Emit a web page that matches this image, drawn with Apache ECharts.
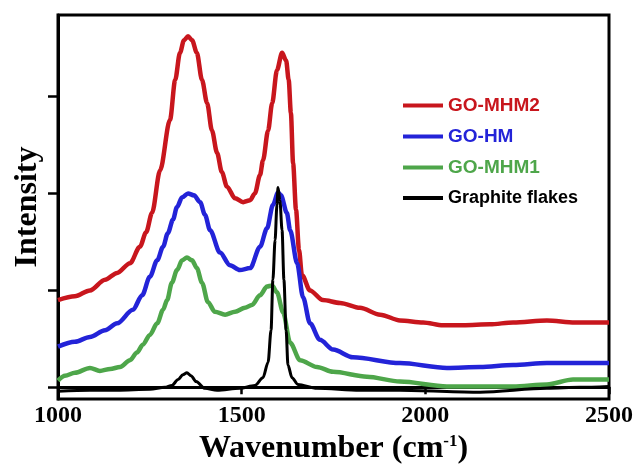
<!DOCTYPE html>
<html>
<head>
<meta charset="utf-8">
<script src="https://cdn.jsdelivr.net/npm/echarts@6/dist/echarts.min.js"></script>
<style>
html,body{margin:0;padding:0;background:#fff;}
#chart{width:638px;height:466px;}
</style>
</head>
<body>
<div id="chart"></div>
<script>
// ---- Data ----
var seriesNames = ['GO-MHM2', 'GO-HM', 'GO-MHM1', 'Graphite flakes'];
var xTicks = [1000, 1500, 2000, 2500];
var yTicks = [0, 1, 2, 3];

var redX = [1000,1046,1087,1128,1161,1196,1223,1240,1256,1278,1305,1319,1332,1343,1354,1365,1378,1392,1406,1419,1433,1446,1460,1482,1504,1523,1536,1550,1558,1572,1583,1596,1610,1621,1628,1634,1640,1648,1656,1664,1686,1721,1768,1822,1877,1931,1994,2048,2103,2176,2239,2331,2407,2500];
var redY = [0.90,0.94,1.00,1.11,1.18,1.28,1.45,1.60,1.80,2.24,2.76,3.17,3.45,3.58,3.62,3.58,3.45,3.17,2.93,2.65,2.42,2.22,2.07,1.95,1.91,1.93,2.00,2.19,2.34,2.65,2.93,3.27,3.45,3.37,3.17,2.83,2.31,1.83,1.42,1.16,1.00,0.90,0.87,0.82,0.75,0.69,0.67,0.64,0.64,0.65,0.67,0.69,0.67,0.67];

var blueX = [1000,1046,1087,1128,1161,1204,1229,1250,1270,1286,1299,1313,1324,1338,1354,1370,1387,1400,1414,1441,1468,1495,1523,1550,1569,1585,1599,1607,1623,1632,1651,1667,1686,1713,1749,1803,1931,2059,2149,2239,2331,2500];
var blueY = [0.42,0.47,0.52,0.59,0.66,0.80,0.95,1.14,1.31,1.45,1.59,1.73,1.86,1.96,2.00,1.98,1.91,1.78,1.62,1.39,1.26,1.21,1.23,1.45,1.64,1.88,2.01,1.98,1.80,1.62,1.28,0.93,0.66,0.49,0.39,0.31,0.25,0.20,0.21,0.23,0.25,0.25];

var greenX = [1000,1019,1046,1087,1114,1142,1169,1196,1215,1231,1250,1270,1286,1297,1310,1324,1338,1351,1365,1378,1392,1408,1427,1455,1482,1509,1528,1550,1569,1583,1596,1613,1632,1659,1705,1749,1841,1931,2059,2149,2239,2331,2402,2500];
var greenY = [0.07,0.12,0.15,0.20,0.17,0.19,0.21,0.28,0.36,0.44,0.54,0.66,0.80,0.90,1.08,1.21,1.31,1.34,1.31,1.23,1.08,0.88,0.78,0.75,0.78,0.82,0.85,0.95,1.04,1.05,0.98,0.77,0.46,0.28,0.21,0.16,0.11,0.06,0.01,0.01,0.01,0.03,0.08,0.08];

var blackX = [1000,1087,1161,1250,1291,1310,1327,1340,1351,1362,1376,1400,1433,1495,1536,1558,1572,1580,1585,1591,1596,1599,1604,1610,1615,1621,1626,1637,1653,1705,1822,1931,2149,2331,2421,2500];
var blackY = [-0.04,-0.03,-0.03,-0.02,0.00,0.02,0.08,0.13,0.15,0.12,0.06,-0.01,-0.03,-0.01,0.02,0.10,0.26,0.59,1.11,1.52,1.88,2.06,1.93,1.62,1.11,0.59,0.23,0.10,0.03,-0.01,-0.03,-0.03,-0.05,-0.01,0.00,0.01];

var colors = ['#c8161d', '#2323d8', '#4ea64a', '#000000'];

function zip(xs, ys) { return xs.map(function (x, i) { return [x, ys[i]]; }); }
var allData = [zip(redX, redY), zip(blueX, blueY), zip(greenX, greenY), zip(blackX, blackY)];
var widths = [4.5, 4.5, 4.5, 3];

var chart = echarts.init(document.getElementById('chart'), null, {renderer: 'canvas'});
var option = {
  animation: false,
  backgroundColor: '#fff',
  grid: {left: 58, right: 29, top: 15, bottom: 67, containLabel: false, outerBoundsMode: 'none',
    show: true, borderColor: '#000', borderWidth: 3, backgroundColor: 'transparent'},
  legend: {
    orient: 'vertical', left: 398, top: 91, itemWidth: 40, itemHeight: 4, itemGap: 12, itemTextGap: 6,
    icon: 'rect',
    data: seriesNames.map(function (n, i) {
      return {name: n, textStyle: {color: colors[i], fontSize: i === 3 ? 18 : 19}};
    }),
    textStyle: {fontFamily: 'Liberation Sans', fontWeight: 'bold', fontSize: 19}
  },
  xAxis: {
    type: 'value', min: 1000, max: 2500, interval: 500,
    name: 'Wavenumber (cm{sup|-1})', nameLocation: 'middle', nameGap: 28,
    nameTextStyle: {fontFamily: 'Liberation Serif', fontWeight: 'bold', fontSize: 32, color: '#000',
      rich: {sup: {fontFamily: 'Liberation Serif', fontWeight: 'bold', fontSize: 17, color: '#000', verticalAlign: 'top'}}},
    axisLine: {lineStyle: {color: '#000', width: 3}},
    axisTick: {length: 7, lineStyle: {color: '#000', width: 2.5}, customValues: xTicks},
    axisLabel: {margin: 5, fontFamily: 'Liberation Serif', fontWeight: 'bold', fontSize: 24, color: '#000',
      customValues: xTicks, formatter: function (v) { return String(v); }},
    splitLine: {show: false}
  },
  yAxis: {
    type: 'value', min: -0.12, max: 3.84,
    name: 'Intensity', nameLocation: 'middle', nameGap: 14,
    nameTextStyle: {fontFamily: 'Liberation Serif', fontWeight: 'bold', fontSize: 32, color: '#000'},
    axisLine: {lineStyle: {color: '#000', width: 3}},
    axisTick: {length: 10, lineStyle: {color: '#000', width: 2.5}, customValues: yTicks},
    axisLabel: {show: false},
    splitLine: {show: false}
  },
  series: seriesNames.map(function (n, i) {
    return {
      name: n, type: 'line', data: allData[i], symbol: 'none', smooth: 0.3, smoothMonotone: 'x',
      lineStyle: {color: colors[i], width: widths[i]}, itemStyle: {color: colors[i]}, z: 2 + i
    };
  })
};
chart.setOption(option);
</script>
</body>
</html>
